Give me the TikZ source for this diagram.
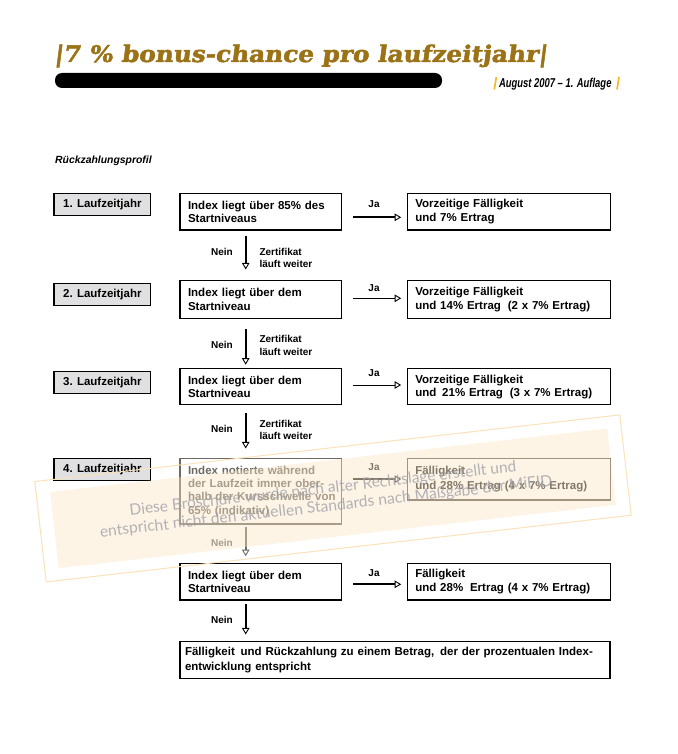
\documentclass[tikz,border=0pt]{standalone}
\usepackage{fontspec}
\setmainfont{Liberation Sans}
\newfontfamily\titlefont{DejaVu Serif}[FakeSlant=0.12,FakeBold=2]
\newfontfamily\wmfont{Lato}
\usetikzlibrary{arrows.meta}
\definecolor{gold}{RGB}{155,115,22}
\definecolor{ybar}{RGB}{247,185,40}
\definecolor{lbox}{RGB}{224,224,226}
\definecolor{wmfill}{RGB}{245,194,107}
\definecolor{wmline}{RGB}{250,226,185}
\definecolor{wmtext}{RGB}{160,160,168}
\definecolor{grayA}{RGB}{110,104,98}
\definecolor{grayB}{RGB}{95,88,80}
\definecolor{grayC}{RGB}{45,42,38}
\tikzset{
  yearbox/.style={draw=black, line width=1.1pt, fill=lbox, minimum width=96.7pt,
    minimum height=22.4pt, inner sep=0pt, font=\fontsize{11.5}{13.3}\selectfont\bfseries},
  condbox/.style={draw=black, line width=1.1pt, inner xsep=8pt, inner ysep=0pt, align=left,
    text width=145.7pt, font=\fontsize{11.5}{13.3}\selectfont\bfseries},
  resbox/.style={draw=black, line width=1.1pt, inner xsep=8pt, inner ysep=0pt, align=left,
    text width=187pt, font=\fontsize{11.5}{13.3}\selectfont\bfseries},
  finbox/.style={draw=black, line width=1.1pt, inner xsep=5pt, inner ysep=0pt, align=left,
    text width=420pt, minimum height=36.6pt, font=\fontsize{11.5}{15}\selectfont\bfseries},
  lbl/.style={inner sep=0pt, font=\fontsize{10}{12.5}\selectfont\bfseries},
  tip/.style={-{Triangle[open,length=6.5pt,width=7.5pt,line width=0.9pt]}},
  downarr/.style={tip, line width=2pt},
  jaarr/.style={tip, shorten <=11pt, shorten >=5.6pt},
}
\begin{document}
\begin{tikzpicture}[x=1pt,y=-1pt]
\useasboundingbox[fill=white] (0,0) rectangle (677,754);

% header
\node[anchor=base west, inner sep=0pt] (title) at (54,62)
  {\resizebox{493pt}{17.5pt}{\color{gold}\titlefont\bfseries |7 \% bonus-chance pro laufzeitjahr|}};
\fill[black, rounded corners=7pt] (55,73) rectangle (442,88);
\node[anchor=base west, inner sep=0pt] (date) at (498.8,87.3)
  {\resizebox{112.5pt}{9.3pt}{\bfseries\itshape August 2007 – 1. Auflage}};
\draw[draw=ybar, line width=1.7pt] (496.3,77) -- (494.3,89.5);
\draw[draw=ybar, line width=1.7pt] (619,77) -- (617,89.5);
\node[anchor=base west, inner sep=0pt] (rp) at (55,164)
  {\fontsize{10.4}{12}\selectfont\bfseries\itshape Rückzahlungsprofil};

% row 1
\node[yearbox] (y1) at (102.35,204.5) {1. Laufzeitjahr};
\node[condbox, minimum height=36.7pt] (m1) at (260.85,211.65) {Index liegt über 85\% des\\Startniveaus};
\node[resbox, minimum height=36.7pt] (r1) at (508.8,211.65) {Vorzeitige Fälligkeit\\und 7\% Ertrag};
\draw[jaarr, line width=2pt] ([yshift=-5.65pt]m1.east) -- ([yshift=-5.65pt]r1.west);
\node[lbl, anchor=base] (j1) at (374,207.7) {Ja};

% row 2
\node[yearbox, minimum height=21.7pt] (y2) at (102.35,294.2) {2. Laufzeitjahr};
\node[condbox, minimum height=37.6pt] (m2) at (260.85,299.5) {Index liegt über dem\\Startniveau};
\node[resbox, minimum height=37.6pt] (r2) at (508.8,299.5) {Vorzeitige Fälligkeit\\und 14\% Ertrag\hspace{3pt} (2 x 7\% Ertrag)};
\draw[jaarr, line width=1pt] ([yshift=1.2pt]m2.east) -- ([yshift=1.2pt]r2.west);
\node[lbl, anchor=base] (j2) at (374,291.7) {Ja};

% row 3
\node[yearbox, minimum height=21.6pt] (y3) at (102.35,382.5) {3. Laufzeitjahr};
\node[condbox, minimum height=36.4pt] (m3) at (260.85,386.7) {Index liegt über dem\\Startniveau};
\node[resbox, minimum height=36.4pt] (r3) at (508.8,386.7) {Vorzeitige Fälligkeit\\und\hspace{2pt} 21\% Ertrag\hspace{3pt} (3 x 7\% Ertrag)};
\draw[jaarr, line width=1pt] ([yshift=1.7pt]m3.east) -- ([yshift=1.7pt]r3.west);
\node[lbl, anchor=base] (j3) at (374,376.7) {Ja};

% row 4
\node[yearbox] (y4) at (102.35,469.5) {4. Laufzeitjahr};
\node[condbox, draw=grayA, text=grayA, minimum height=65.7pt] (m4) at (260.85,491.15)
  {Index notierte während\\der Laufzeit immer ober-\\\makebox[140pt][l]{halb der Kursschwelle von}\\65\% (indikativ)};
\node[resbox, draw=grayB, text=grayC, minimum height=41.7pt, font=\fontsize{11.5}{15.5}\selectfont\bfseries] (r4) at (508.8,479.15)
  {Fälligkeit\\und 28\% Ertrag (4 x 7\% Ertrag)};
\draw[jaarr, line width=1.4pt, draw=grayC] (m4.east |- r4.west) -- (r4.west);
\node[lbl, anchor=base, text=grayC] (j4) at (374,470.7) {Ja};

% row 5
\node[condbox, minimum height=36.7pt] (m5) at (260.85,581.65) {Index liegt über dem\\Startniveau};
\node[resbox, minimum height=36.7pt, font=\fontsize{11.5}{14.4}\selectfont\bfseries] (r5) at (508.8,581.65)
  {Fälligkeit\\und 28\%\hspace{3pt} Ertrag (4 x 7\% Ertrag)};
\draw[jaarr, line width=2pt] ([yshift=-2.65pt]m5.east) -- ([yshift=-2.65pt]r5.west);
\node[lbl, anchor=base] (j5) at (374,576) {Ja};
\node[finbox] (fin) at (395,660)
  {Fälligkeit\hspace{2pt} und Rückzahlung zu einem Betrag,\hspace{2pt} der der prozentualen Index-\\entwicklung entspricht};

% down arrows and labels
\draw[downarr, shorten <=5pt, shorten >=10.7pt] ([xshift=-15.15pt]m1.south) -- ([xshift=-15.15pt]m2.north);
\draw[downarr, shorten <=10pt, shorten >=3.3pt] ([xshift=-15.15pt]m2.south) -- ([xshift=-15.15pt]m3.north);
\draw[downarr, shorten <=7.7pt, shorten >=9.3pt] ([xshift=-15.15pt]m3.south) -- ([xshift=-15.15pt]m4.north);
\draw[downarr, draw=grayA, line width=1.7pt, shorten <=2pt, shorten >=6.6pt] ([xshift=-15.15pt]m4.south) -- ([xshift=-15.15pt]m5.north);
\draw[downarr, shorten <=3.3pt, shorten >=6.7pt] ([xshift=-15.15pt]m5.south) -- ([xshift=-15.15pt]m5.south |- fin.north);
\node[lbl, anchor=base east] (n1) at (233,255) {Nein};
\node[lbl, anchor=base west, align=left] (z1) at (259.3,267.7) {Zertifikat\\läuft weiter};
\node[lbl, anchor=base east] (n2) at (233,348.3) {Nein};
\node[lbl, anchor=base west, align=left] (z2) at (259.3,355) {Zertifikat\\läuft weiter};
\node[lbl, anchor=base east] (n3) at (233,432.7) {Nein};
\node[lbl, anchor=base west, align=left] (z3) at (259.3,439.5) {Zertifikat\\läuft weiter};
\node[lbl, anchor=base east, text=grayA] (n4) at (233,546) {Nein};
\node[lbl, anchor=base east] (n5) at (233,623.3) {Nein};

% watermark
\begin{scope}[shift={(333,498.4)}, rotate=6.5, transform shape]
  \fill[white, fill opacity=0.3] (-280.35,-38.35) rectangle (280.35,38.35);
  \fill[wmfill, fill opacity=0.17] (-280.35,-38.35) rectangle (280.35,38.35);
  \draw[wmline, line width=1pt] (-294.4,-50.5) rectangle (294.4,50.5);
  \node[inner sep=0pt, anchor=base, text=wmtext, text opacity=0.8] (wm1) at (-8.9,-5.94)
    {\resizebox{389pt}{!}{\wmfont Diese Broschüre wurde nach alter Rechtslage erstellt und}};
  \node[inner sep=0pt, anchor=base, text=wmtext, text opacity=0.8] (wm2) at (-7.9,12.28)
    {\resizebox{455pt}{!}{\wmfont entspricht nicht den aktuellen Standards nach Maßgabe der MiFID}};
\end{scope}
\end{tikzpicture}
\end{document}
